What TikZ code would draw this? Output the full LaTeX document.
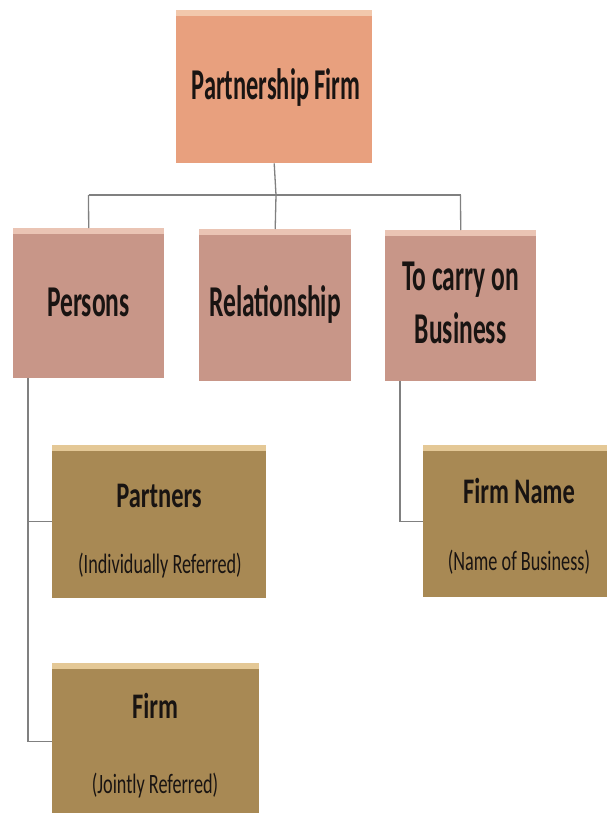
\documentclass[tikz,border=0pt]{standalone}
\usepackage{fontspec}
\setmainfont{Carlito}
\definecolor{topfill}{RGB}{232,160,126}
\definecolor{topstrip}{RGB}{242,200,172}
\definecolor{midfill}{RGB}{200,150,136}
\definecolor{midstrip}{RGB}{234,196,180}
\definecolor{lowfill}{RGB}{168,137,84}
\definecolor{lowstrip}{RGB}{228,200,150}
\definecolor{linec}{RGB}{128,128,128}
\definecolor{txt}{RGB}{25,20,18}
\newcommand{\sq}[2][0.58]{\scalebox{#1}[1]{#2}}
\tikzset{
  boxbase/.style={draw=none, inner sep=0pt, anchor=north west},
  topbox/.style={boxbase, fill=topfill},
  midbox/.style={boxbase, fill=midfill},
  lowbox/.style={boxbase, fill=lowfill},
  ttl/.style={anchor=base, inner sep=0pt, text=txt, font=\fontsize{44}{50}\selectfont\bfseries},
  sttl/.style={anchor=base, inner sep=0pt, text=txt, font=\fontsize{36}{42}\selectfont\bfseries},
  sub/.style={anchor=base, inner sep=0pt, text=txt, font=\fontsize{28}{32}\selectfont},
  conn/.style={draw=linec, line width=1.3pt}
}
\begin{document}
\begin{tikzpicture}[x=1pt,y=-1pt]
\useasboundingbox (0,0) rectangle (607,813);
\fill[white] (0,0) rectangle (607,813);
% boxes
\node[topbox, minimum width=196pt, minimum height=153pt] (pf) at (176,10) {};
\fill[topstrip] (176,10) rectangle (372,16);
\node[midbox, minimum width=151pt, minimum height=150pt] (per) at (13,228) {};
\fill[midstrip] (13,228) rectangle (164,234);
\node[midbox, minimum width=152pt, minimum height=152pt] (rel) at (199,229) {};
\fill[midstrip] (199,229) rectangle (351,235);
\node[midbox, minimum width=151pt, minimum height=151pt] (tcb) at (385,230) {};
\fill[midstrip] (385,230) rectangle (536,236);
\node[lowbox, minimum width=214pt, minimum height=153pt] (prt) at (52,445) {};
\fill[lowstrip] (52,445) rectangle (266,451);
\node[lowbox, minimum width=184pt, minimum height=152pt] (fn) at (423,445) {};
\fill[lowstrip] (423,445) rectangle (607,451);
\node[lowbox, minimum width=207pt, minimum height=150pt] (frm) at (52,663) {};
\fill[lowstrip] (52,663) rectangle (259,669);
% connectors
\coordinate (hb) at (276,195);
\coordinate (hl) at (88.5,195);
\coordinate (hr) at (460.5,195);
\draw[conn] (pf.south) -- (hb);
\draw[conn] (hl) -- (hr);
\draw[conn] (hl) -- (per.north);
\draw[conn] (hb) -- (rel.north);
\draw[conn] (hr) -- (tcb.north);
\coordinate (pv) at (28,378);
\draw[conn] (pv) |- (prt.west);
\draw[conn] (pv) |- ([yshift=-3pt]frm.west);
\coordinate (tv) at (400,381);
\draw[conn] (tv) |- (fn.west);
% texts
\node[ttl] (tpf) at (276,100) {\sq[0.555]{Partnership Firm}};
\node[ttl] (tper) at (88.5,316) {\sq{Persons}};
\node[ttl] (trel) at (275,316) {\sq{Relationship}};
\node[ttl] (ttcb1) at (460.5,290) {\sq{To carry on}};
\node[ttl] (ttcb2) at (460.5,343) {\sq{Business}};
\node[sttl] (tprt) at (159,507) {\sq[0.68]{Partners}};
\node[sub] (sprt) at (160,573) {\sq[0.65]{(Individually Referred)}};
\node[sttl] (tfn) at (519,503) {\sq[0.68]{Firm Name}};
\node[sub] (sfn) at (519,570) {\sq[0.65]{(Name of Business)}};
\node[sttl] (tfrm) at (155,718) {\sq[0.68]{Firm}};
\node[sub] (sfrm) at (155,793) {\sq[0.65]{(Jointly Referred)}};
\end{tikzpicture}
\end{document}
